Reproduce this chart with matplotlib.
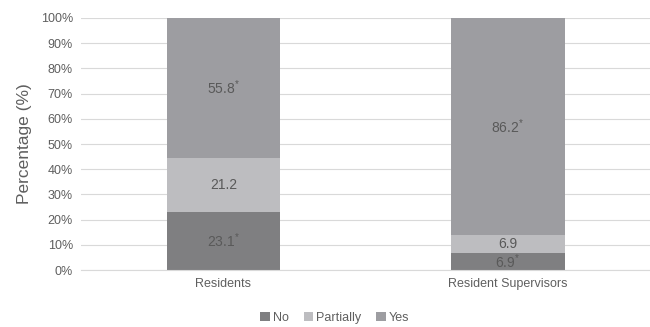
import matplotlib.pyplot as plt
import numpy as np

# ----------------------------- Datos ----------------------------------------
groups = ["Residents", "Resident Supervisors"]
series = ["No", "Partially", "Yes"]
no_vals = [23.1, 6.9]
partial_vals = [21.2, 6.9]
yes_vals = [55.8, 86.2]
no_labels = ["23.1$^{*}$", "6.9$^{*}$"]
partial_labels = ["21.2", "6.9"]
yes_labels = ["55.8$^{*}$", "86.2$^{*}$"]

colors = ["#7f7f81", "#bdbdc0", "#9d9da1"]
text_gray = "#5f5f5f"
label_gray = "#595959"

plt.rcParams["font.family"] = ["Liberation Sans", "DejaVu Sans"]
plt.rcParams["mathtext.fontset"] = "custom"
plt.rcParams["mathtext.rm"] = "Liberation Sans"

# ----------------------------- Figura ---------------------------------------
fig = plt.figure(figsize=(6.5, 3.27), dpi=100)
ax = fig.add_axes([0.125, 0.174, 0.875, 0.771])

x = np.arange(len(groups))
width = 0.4
bottoms = np.zeros(len(groups))
stack = [(no_vals, no_labels), (partial_vals, partial_labels), (yes_vals, yes_labels)]
for (vals, labs), name, col in zip(stack, series, colors):
    bars = ax.bar(x, vals, width, bottom=bottoms, color=col, label=name, zorder=2)
    for b, lab, v, bt in zip(bars, labs, vals, bottoms):
        ax.text(b.get_x() + b.get_width() / 2, bt + v / 2, lab,
                ha="center", va="center", fontsize=10, color=label_gray, zorder=3)
    bottoms += np.array(vals)

ax.set_xlim(-0.5, 1.5)
ax.set_ylim(0, 100)
ax.set_yticks(range(0, 101, 10))
ax.set_yticklabels([f"{v}%" for v in range(0, 101, 10)])
ax.set_xticks(x)
ax.set_xticklabels(groups)
ax.yaxis.grid(True, color="#d9d9d9", linewidth=0.8, zorder=0)
ax.set_axisbelow(True)
for s in ["top", "right", "left"]:
    ax.spines[s].set_visible(False)
ax.spines["bottom"].set_color("#d9d9d9")
ax.tick_params(axis="both", length=0, labelsize=9, colors=text_gray, pad=6)
ax.set_ylabel("Percentage (%)", fontsize=12.5, color=text_gray, labelpad=6)

fig.legend(loc="center", bbox_to_anchor=(0.515, 0.027), ncol=3, frameon=False,
           fontsize=9, handlelength=0.75, handleheight=0.75, handletextpad=0.25,
           columnspacing=1.2, labelcolor=text_gray)

fig.savefig("out.png", dpi=100, facecolor="white")
